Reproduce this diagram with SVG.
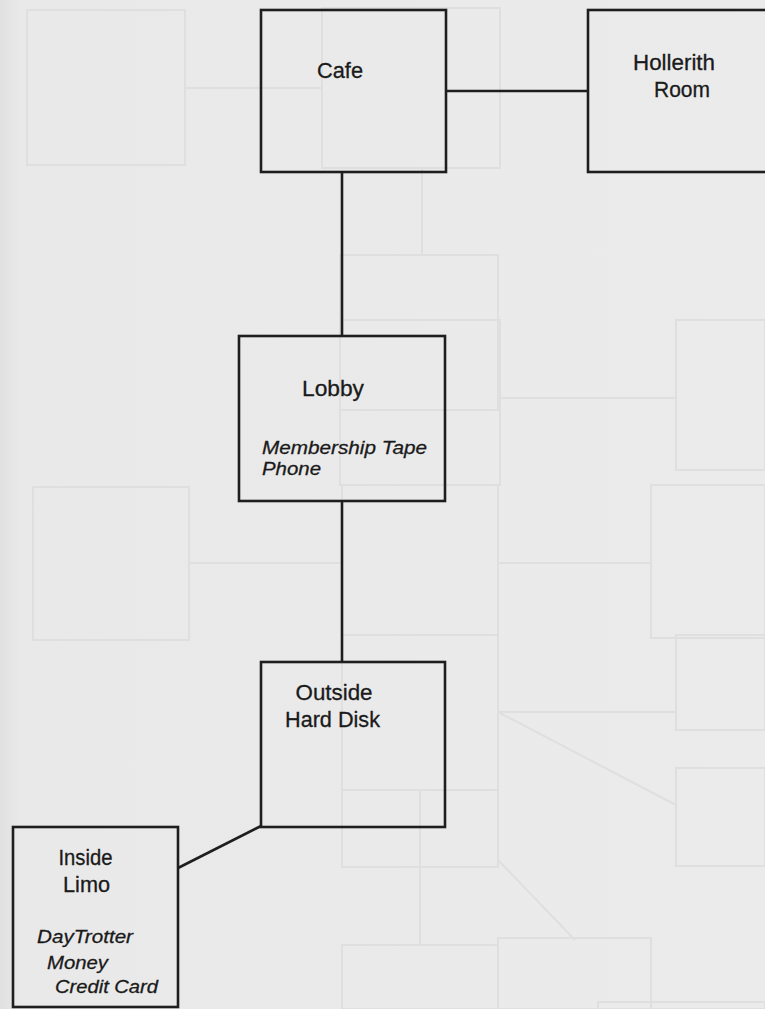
<svg xmlns="http://www.w3.org/2000/svg" width="765" height="1009" viewBox="0 0 765 1009">
<defs>
<linearGradient id="paper" x1="0" y1="0" x2="1" y2="0">
<stop offset="0" stop-color="#e0e0e0"/>
<stop offset="0.025" stop-color="#e9e9e9"/>
<stop offset="1" stop-color="#ebebeb"/>
</linearGradient>
</defs>
<style>
.box{fill:none;stroke:#1e1e1e;stroke-width:2.6}
.link{stroke:#1e1e1e;stroke-width:2.6;fill:none}
.ghost{fill:none;stroke:#dfdfdf;stroke-width:2}
.name{font-family:"Liberation Sans",Arial,sans-serif;font-size:22px;fill:#1a1a1a;stroke:#1a1a1a;stroke-width:0.3;text-anchor:middle}
.item{font-family:"Liberation Sans",Arial,sans-serif;font-size:19px;font-style:italic;fill:#1a1a1a;stroke:#1a1a1a;stroke-width:0.3}
</style>
<rect width="765" height="1009" fill="url(#paper)"/>
<g id="bleed-through">
<rect class="ghost" x="27" y="10" width="158" height="155"/>
<rect class="ghost" x="322" y="8" width="178" height="160"/>
<line class="ghost" x1="185" y1="88" x2="322" y2="88"/>
<rect class="ghost" x="340" y="255" width="158" height="155"/>
<line class="ghost" x1="422" y1="168" x2="422" y2="255"/>
<rect class="ghost" x="340" y="320" width="160" height="165"/>
<rect class="ghost" x="676" y="320" width="89" height="150"/>
<line class="ghost" x1="500" y1="398" x2="676" y2="398"/>
<rect class="ghost" x="33" y="487" width="156" height="153"/>
<rect class="ghost" x="342" y="485" width="156" height="150"/>
<rect class="ghost" x="651" y="485" width="114" height="153"/>
<line class="ghost" x1="189" y1="563" x2="342" y2="563"/>
<line class="ghost" x1="498" y1="563" x2="651" y2="563"/>
<rect class="ghost" x="342" y="635" width="156" height="155"/>
<rect class="ghost" x="676" y="635" width="89" height="95"/>
<line class="ghost" x1="498" y1="712" x2="676" y2="712"/>
<line class="ghost" x1="498" y1="712" x2="676" y2="805"/>
<rect class="ghost" x="676" y="768" width="89" height="98"/>
<rect class="ghost" x="342" y="790" width="156" height="77"/>
<line class="ghost" x1="420" y1="790" x2="420" y2="945"/>
<line class="ghost" x1="498" y1="860" x2="575" y2="940"/>
<rect class="ghost" x="342" y="945" width="156" height="64"/>
<rect class="ghost" x="498" y="938" width="153" height="71"/>
<rect class="ghost" x="598" y="1002" width="167" height="7"/>
</g>
<g id="connectors">
<line class="link" x1="446" y1="91" x2="588" y2="91"/>
<line class="link" x1="342" y1="172" x2="342" y2="336"/>
<line class="link" x1="342" y1="501" x2="342" y2="662"/>
<line class="link" x1="178" y1="868" x2="261" y2="826" stroke-width="4"/>
</g>
<g id="cafe">
<rect class="box" x="261" y="10" width="185" height="162"/>
<text class="name" x="340" y="78" textLength="46" lengthAdjust="spacingAndGlyphs">Cafe</text>
</g>
<g id="hollerith-room">
<rect class="box" x="588" y="10" width="190" height="162"/>
<text class="name" x="674" y="70" textLength="82" lengthAdjust="spacingAndGlyphs">Hollerith</text>
<text class="name" x="682" y="97" textLength="56" lengthAdjust="spacingAndGlyphs">Room</text>
</g>
<g id="lobby">
<rect class="box" x="239" y="336" width="206" height="165"/>
<text class="name" x="333" y="396" textLength="62" lengthAdjust="spacingAndGlyphs">Lobby</text>
<text class="item" x="262" y="454" textLength="165" lengthAdjust="spacingAndGlyphs">Membership Tape</text>
<text class="item" x="262" y="475" textLength="59" lengthAdjust="spacingAndGlyphs">Phone</text>
</g>
<g id="outside-hard-disk">
<rect class="box" x="261" y="662" width="184" height="165"/>
<text class="name" x="334" y="700" textLength="77" lengthAdjust="spacingAndGlyphs">Outside</text>
<text class="name" x="332.5" y="727" textLength="95" lengthAdjust="spacingAndGlyphs">Hard Disk</text>
</g>
<g id="inside-limo">
<rect class="box" x="13" y="827" width="165" height="180"/>
<text class="name" x="85.5" y="865" textLength="54" lengthAdjust="spacingAndGlyphs">Inside</text>
<text class="name" x="86.5" y="892" textLength="47" lengthAdjust="spacingAndGlyphs">Limo</text>
<text class="item" x="37" y="943" textLength="96" lengthAdjust="spacingAndGlyphs">DayTrotter</text>
<text class="item" x="47" y="969" textLength="61" lengthAdjust="spacingAndGlyphs">Money</text>
<text class="item" x="55" y="993" textLength="103" lengthAdjust="spacingAndGlyphs">Credit Card</text>
</g>
</svg>
